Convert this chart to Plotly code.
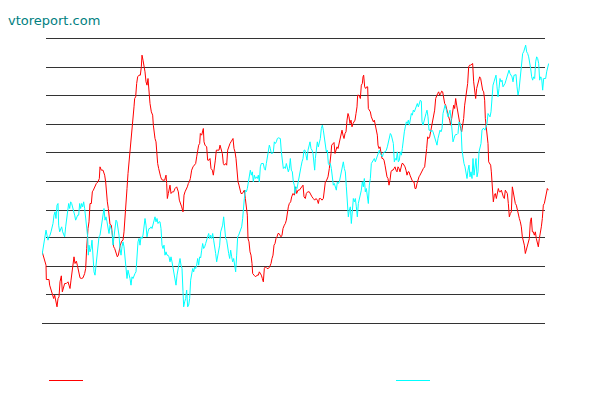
import plotly.graph_objects as go

# ---- data (time index, level) ----
red_t = [0,3,8,12,13,21,23,28,32,35,38,41,45,48,51,54,58,61,64,68,73,78,81,84,87,90,93,96,99,103,
         106,110,114,118,123,128,131,134,136,138,141,144,148,151,154,158,163,168,172,174,178,183,188,191,193,196,199,202,204,208,
         212,215,218,222,226,229,232,235,239,243,246,249,252,255,258,261,264,267,270,273,276,278,281,284,287,291,295,298,300,303,
         306,309,312,315,318,321,324,328,332,334,336,339,342,344,347,350,353,356,359,363,368,372,374,376,
         379,384,387,391,395,399,404,409,412,416,419,423,426,429,432,436,439,442,445,449,453,457,461,464,467,470,473,475,479,482,
         484,486,489,494,497,501,504,507,511,514,517,520,523,527,531,534,537,541,544,547,551,554,557,561,564,567,570,573,576,579,
         582,585,588,591,594,597,601,604,607,610,613,616,618,621,624,627,630,632,636,641,645,649,652,655,658,661,664,667,670,675,
         679,683,687,690,693,696,699,702,705,708,711,714,717,720,723,727,730,733,736,739,742,746,749,753,757,
         760,764,768,772,776,780,783,786,790,793,797,802,806,810,814,818,822,826,829,832,836,840,844,847,850,854,858,862,865,867,
         869,872,876,879,882,885,888,891,894,897,900,903,906,909,912,915,918,921,924,927,930,933,936,939,942,945,947,950,953,955,
         958,961,963,965,968,971,974,977,979,982,985,988,991,994,997,1000,1003,1006,1008,1011,1014,1017,1020,1023,1026,1029,1032,1035,1038,1041,
         1044,1047,1050,1053,1056,1059,1062,1065,1068,1071,1074,1077,1080,1083,1086,1089,1092,1095,1098,1101,1104,1107,1110,1113,1116,1119,1122,1125,1128,1131,
         1134,1138,1140,1144,1148,1151,1154,1157,1160,1163,1166,1169,1172,1175,1178,1181,1184,1187,1190,1193,1196,1199,1202,1205,1208,1211,1214,1217,1220,1223,
         1226,1229,1232,1235,1238,1241,1244,1247,1250,1253,1256,1259,1262,1265,1268,1271,1274,1277,1280,1283,1286,1289,1292,1295,1298,1301,1304,1307,1310,1313,
         1316,1319,1322,1325,1328,1330,1333,1336,1338,1340,1343,1346,1348,1350,1352,1354,1357,1360,1363,1366,1369,1372,1375,1378,1381,1384,1387,1390,1393,1396,
         1399,1402,1405,1408,1411,1414,1417,1420,1423,1426,1429,1432,1435,1438,1441,1444,1447,1450,1453,1456,1459,1462,1465,1468,1471,1474,1477,1480,1483,1486,
         1489,1492,1495,1498,1501,1504,1507,1510,1513,1516,1519]
red_v = [217,205,190,175,132,132,115,95,80,75,85,65,50,75,80,125,143,95,105,120,120,125,115,105,130,155,185,200,180,187,
         175,155,137,135,137,150,165,225,265,285,305,360,360,395,400,410,420,425,435,470,460,460,445,425,390,365,345,325,297,295,
         265,230,225,210,200,205,225,235,247,250,275,330,360,405,450,480,525,555,570,605,650,675,680,720,740,745,745,770,805,790,
         775,755,725,715,735,690,660,635,625,595,570,555,545,510,480,465,450,440,432,430,430,445,420,375,
         390,415,390,395,395,405,410,395,370,360,350,335,385,395,400,410,420,425,435,460,470,475,480,500,520,535,540,570,565,575,
         585,545,535,530,490,490,495,465,460,445,480,490,520,520,520,535,520,510,480,475,480,475,520,535,540,545,550,555,525,515,
         495,445,425,415,405,390,390,395,400,375,345,325,255,245,215,205,180,150,145,140,145,145,155,150,145,135,125,165,170,165,
         165,170,180,195,205,235,240,255,260,270,270,265,260,265,285,295,300,310,335,350,360,365,380,390,385,
         410,390,400,400,405,410,415,380,375,390,395,395,385,380,375,370,375,370,360,375,375,370,375,400,425,430,440,465,485,510,
         535,540,543,510,520,530,525,540,555,570,580,565,555,570,575,610,630,620,600,610,590,600,605,610,630,650,685,685,680,675,
         715,720,740,745,710,705,710,710,645,640,635,620,610,605,610,595,590,565,535,525,530,515,495,495,490,475,455,440,435,415,
         430,455,460,460,465,470,460,455,470,465,455,470,480,480,475,470,460,445,455,455,445,435,430,425,425,405,405,420,435,440,
         445,455,455,465,470,490,525,560,555,560,575,595,610,625,640,675,685,690,695,685,690,697,695,670,660,655,640,635,620,610,
         595,615,640,655,645,675,655,635,615,600,585,575,595,615,655,675,695,720,770,775,775,777,780,725,705,675,705,720,730,740,
         735,715,700,695,670,615,590,575,540,485,480,475,455,425,375,365,385,390,375,390,405,395,395,400,385,380,375,400,395,390,
         360,320,330,335,410,390,370,360,355,340,320,315,305,290,260,250,235,210,220,235,240,255,305,317,275,275,265,275,255,235,
         230,255,270,290,315,355,360,375,395,405,400]

cyan_t = [0,3,6,9,12,15,18,21,24,27,30,33,36,39,42,45,48,50,53,56,59,62,65,68,71,74,77,80,83,86,
          89,92,95,98,101,104,107,110,113,116,119,122,125,128,131,134,137,139,141,144,147,150,153,156,159,162,165,168,171,174,
          177,180,183,186,189,192,195,198,201,204,207,210,213,216,219,222,225,228,231,234,237,240,243,246,249,252,255,258,261,264,
          267,270,273,276,279,282,285,288,291,294,297,300,303,306,309,312,315,318,321,324,327,330,333,336,339,342,345,348,351,354,
          357,360,363,366,369,372,375,
          378,381,384,387,390,393,396,399,402,405,408,411,414,417,420,423,425,428,431,434,437,440,443,446,449,452,455,458,461,464,
          467,470,473,476,479,482,485,488,491,494,497,500,503,506,509,512,515,518,521,524,527,530,533,536,539,542,545,548,551,554,
          557,560,563,566,569,572,575,578,581,584,587,590,593,596,599,602,604,607,610,613,616,619,622,625,628,631,634,637,640,643,
          646,649,652,655,658,661,664,667,670,673,676,679,682,685,688,691,694,697,700,703,706,709,712,715,718,721,724,727,730,733,
          736,739,742,745,748,751,754,757,
          759,762,765,768,771,774,777,780,783,786,789,792,795,798,801,804,807,810,813,816,818,820,823,826,829,832,835,838,841,844,
          847,850,853,856,859,862,865,868,871,874,877,880,883,886,889,892,895,898,901,904,907,910,913,916,919,922,925,928,931,934,
          937,940,943,946,949,952,955,958,961,964,967,970,973,976,979,982,985,988,991,994,997,1000,1003,1006,1009,1012,1015,1018,1021,1024,
          1027,1030,1033,1036,1039,1042,1045,1048,1051,1054,1057,1060,1063,1066,1069,1072,1075,1078,1081,1084,1087,1090,1093,1096,1099,1102,1105,1108,1111,1114,
          1117,1120,1123,1126,1129,1132,1135,1138,
          1140,1143,1146,1149,1152,1155,1158,1161,1164,1167,1170,1173,1176,1179,1182,1185,1188,1191,1194,1197,1200,1203,1206,1209,1212,1215,1218,1221,1224,1227,
          1230,1233,1236,1239,1242,1245,1248,1251,1254,1257,1260,1263,1266,1269,1272,1275,1278,1281,1284,1287,1290,1293,1296,1299,1302,1305,1308,1311,1314,1317,
          1320,1323,1326,1329,1332,1335,1338,1341,1344,1347,1350,1353,1356,1359,1362,1365,1368,1371,1374,1377,1380,1383,1386,1389,1392,1395,1398,1401,1404,1407,
          1410,1413,1416,1419,1422,1425,1428,1431,1434,1437,1440,1442,1445,1448,1451,1454,1457,1460,1463,1466,1469,1472,1475,1478,1481,1484,1487,1490,1493,1496,
          1499,1502,1505,1508,1511,1514,1517,1520]
cyan_v = [205,225,250,260,280,265,250,260,265,275,285,300,325,335,315,355,360,295,275,285,290,275,265,260,290,315,335,360,345,365,
          360,350,335,325,310,320,325,325,360,345,360,350,365,345,315,285,260,205,235,215,225,250,180,155,145,175,200,225,260,265,
          285,305,325,345,310,320,305,290,270,295,285,275,235,265,285,310,305,290,265,225,205,230,245,230,200,160,135,160,150,135,
          115,140,135,145,150,155,215,245,255,235,260,255,265,290,315,295,260,275,285,285,290,285,295,305,320,305,315,300,305,305,
          285,235,225,235,205,215,205,
          205,200,185,200,185,165,145,125,115,145,165,185,195,175,165,95,50,65,75,100,50,55,75,130,155,165,155,170,165,175,
          195,175,200,197,220,240,225,230,240,250,265,270,255,265,255,270,250,235,210,185,205,215,235,275,285,295,320,285,255,250,
          225,210,195,220,200,185,195,170,155,205,260,265,275,280,290,315,350,375,400,395,405,425,455,460,445,455,425,445,435,440,
          435,445,425,470,480,480,480,465,460,480,495,515,535,525,510,510,515,545,540,545,555,557,557,555,515,480,465,470,465,480,
          470,455,465,495,460,455,425,415,
          390,410,405,425,435,455,470,485,495,520,520,505,490,520,535,545,525,520,510,485,460,495,530,545,530,540,555,585,595,580,
          555,535,515,520,480,475,480,465,435,415,420,410,400,425,420,425,440,450,470,485,465,455,410,350,320,340,350,300,355,375,
          365,375,350,320,360,375,380,400,425,410,435,395,405,385,360,415,435,480,485,490,495,485,495,505,515,520,510,505,500,510,
          515,515,520,530,545,560,570,565,555,540,485,495,490,515,485,490,515,505,525,555,575,590,605,600,610,595,615,630,625,640,
          635,645,655,660,650,665,670,667,
          605,595,610,615,630,640,620,580,580,575,580,575,565,555,545,535,555,565,580,575,585,630,650,655,645,625,620,630,640,615,
          585,545,555,565,567,567,570,605,600,590,520,495,480,470,455,435,460,475,440,455,435,495,445,485,495,440,455,515,535,540,
          580,585,585,580,590,600,630,625,620,635,685,715,725,740,745,710,680,705,735,725,730,710,715,720,730,740,755,760,750,745,
          740,725,745,745,747,710,685,700,735,765,790,810,815,825,835,815,810,800,785,765,740,730,740,735,785,800,795,780,730,740,
          735,700,735,735,735,755,770,780]

# gridline levels as drawn in the reference (slightly uneven spacing)
grid_levels = [0, 87, 171, 258, 339, 426, 513, 597, 684, 768, 855]

series_colors = ["#ff0000", "#00ffff"]
site_label = "vtoreport.com"

fig = go.Figure()
fig.add_trace(go.Scatter(x=red_t, y=red_v, mode="lines", name="", showlegend=False,
                         line=dict(color=series_colors[0], width=1)))
fig.add_trace(go.Scatter(x=cyan_t, y=cyan_v, mode="lines", name="", showlegend=False,
                         line=dict(color=series_colors[1], width=1)))

shapes = []
for lv in grid_levels:
    shapes.append(dict(type="line", xref="paper", yref="y",
                       x0=0 if lv == 0 else 4 / 507, x1=503 / 507, y0=lv, y1=lv,
                       line=dict(color="#333333", width=1), layer="below"))

# legend keys (colour swatches below the plot, no labels as in the reference)
key_y = (325 - 380.5) / 288
for color, kx0, kx1 in [(series_colors[0], 7 / 507, 41 / 507),
                        (series_colors[1], 354 / 507, 388 / 507)]:
    shapes.append(dict(type="line", xref="paper", yref="paper",
                       x0=kx0, x1=kx1, y0=key_y, y1=key_y,
                       line=dict(color=color, width=1)))

fig.update_layout(
    width=596, height=398,
    margin=dict(l=42, r=47, t=37, b=73, pad=0, autoexpand=False),
    paper_bgcolor="white", plot_bgcolor="white",
    xaxis=dict(range=[0, 1521], showgrid=False, zeroline=False, showticklabels=False,
               showline=False, ticks=""),
    yaxis=dict(range=[-4.5, 859.5], showgrid=False, zeroline=False, showticklabels=False,
               showline=False, ticks=""),
    shapes=shapes,
    title=dict(text=site_label, xref="container", yref="container", x=8 / 596, xanchor="left",
               y=1 - 20 / 398, yanchor="middle",
               font=dict(family="DejaVu Sans", size=13, color="#008080")),
    showlegend=False,
    hovermode=False,
)

fig.write_html("out.html", config={"displayModeBar": False, "staticPlot": True},
               post_script="document.body.style.margin='0';document.body.style.overflow='hidden';")
